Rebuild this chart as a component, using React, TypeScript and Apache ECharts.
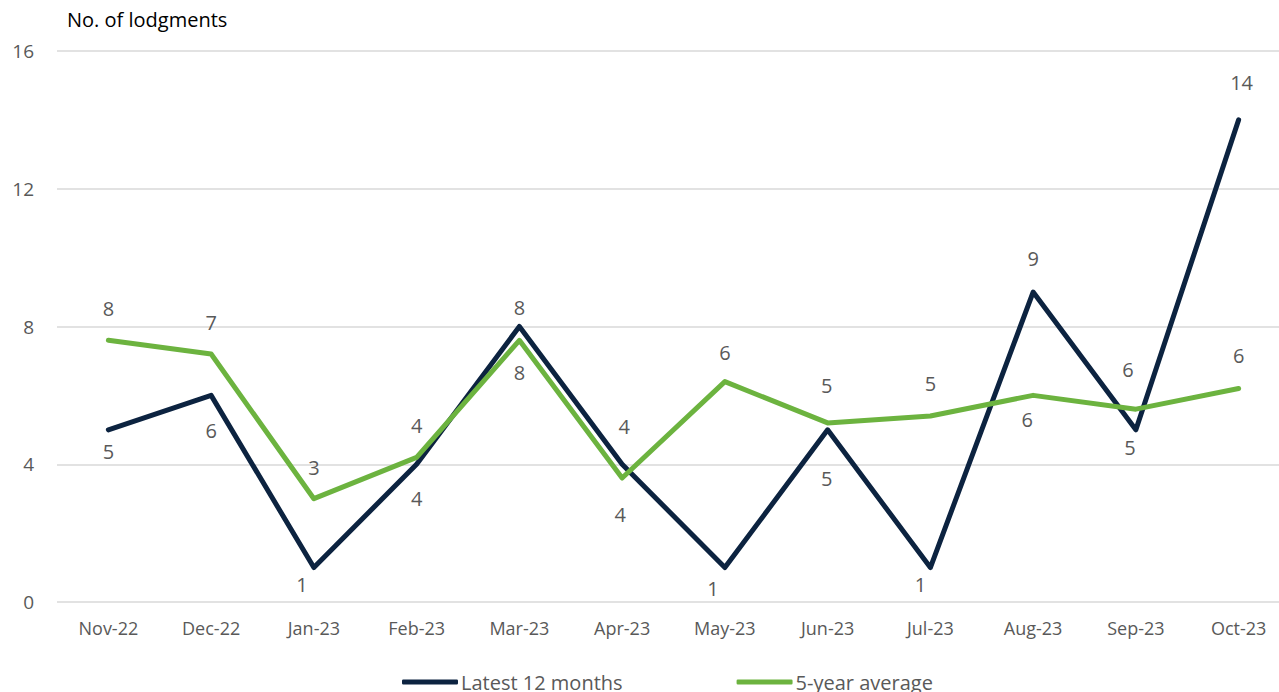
import React, { useEffect, useRef } from "react";
import * as echarts from "echarts";

const categories = ["Nov-22", "Dec-22", "Jan-23", "Feb-23", "Mar-23", "Apr-23", "May-23", "Jun-23", "Jul-23", "Aug-23", "Sep-23", "Oct-23"];
const latest12 = [5, 6, 1, 4, 8, 4, 1, 5, 1, 9, 5, 14];
const fiveYearAvg = [7.6, 7.2, 3.0, 4.2, 7.6, 3.6, 6.4, 5.2, 5.4, 6.0, 5.6, 6.2];
const yTicks = { min: 0, max: 16, interval: 4 };

// label offsets (relative to each point), as placed in the original
const latestLabelDx = [0, 0, -12, 0, 0, 2, -12, -1, -10, 0, -6, 3];
const latestLabelDy = [22, 35, 17, 34, -19, -38, 21, 49, 17, -34, 18, -37];
const avgLabelDx = [0, 0, 0, 0, 0, -2, 0, -1, 0, -6, -8, 0];
const avgLabelDy = [-32, -32, -31, -32, 32, 36, -29, -37, -33, 24, -40, -33];

const FONT = "'Open Sans', sans-serif";
const DARK = "#0c2340";
const GREEN = "#6cb33f";
const GREY = "#595959";

function buildData(values: number[], dx: number[], dy: number[]) {
  return values.map((v, i) => ({
    value: v,
    label: { offset: [dx[i], dy[i]] },
  }));
}

export default function App() {
  const ref = useRef<HTMLDivElement>(null);
  useEffect(() => {
    document.body.style.margin = "0";
    if (!ref.current) return;
    const chart = echarts.init(ref.current, undefined, { renderer: "svg" });
    const labelCommon = {
      show: true,
      position: "inside",
      color: GREY,
      fontSize: 20,
      fontFamily: FONT,
      formatter: (p: any) => String(Math.round(p.value)),
    };
    chart.setOption({
      animation: false,
      backgroundColor: "#ffffff",
      title: {
        text: "No. of lodgments",
        left: 67,
        top: 9,
        padding: 0,
        textStyle: { fontFamily: FONT, fontSize: 20, fontWeight: "normal", color: "#000000" },
      },
      grid: { left: 57, top: 51, right: 1, height: 551, containLabel: false },
      legend: {
        left: 397,
        top: 667,
        itemWidth: 56,
        itemHeight: 5,
        itemGap: 114,
        icon: "roundRect",
        textStyle: { fontFamily: FONT, fontSize: 20, color: GREY, padding: [0, 0, 0, -2] },
        data: ["Latest 12 months", "5-year average"],
      },
      xAxis: {
        type: "category",
        data: categories,
        boundaryGap: true,
        axisLine: { show: false },
        axisTick: { show: false },
        axisLabel: { color: GREY, fontSize: 18, fontFamily: FONT, margin: 17 },
      },
      yAxis: {
        type: "value",
        min: yTicks.min,
        max: yTicks.max,
        interval: yTicks.interval,
        axisLine: { show: false },
        axisTick: { show: false },
        axisLabel: { color: GREY, fontSize: 19, fontFamily: FONT, margin: 23 },
        splitLine: { lineStyle: { color: "#d9d9d9", width: 1.5 } },
      },
      series: [
        {
          name: "Latest 12 months",
          type: "line",
          data: buildData(latest12, latestLabelDx, latestLabelDy),
          symbol: "circle",
          symbolSize: 1,
          itemStyle: { color: DARK },
          lineStyle: { color: DARK, width: 5, cap: "round", join: "round" },
          label: labelCommon,
        },
        {
          name: "5-year average",
          type: "line",
          data: buildData(fiveYearAvg, avgLabelDx, avgLabelDy),
          symbol: "circle",
          symbolSize: 1,
          itemStyle: { color: GREEN },
          lineStyle: { color: GREEN, width: 5, cap: "round", join: "round" },
          label: labelCommon,
        },
      ],
    });
    return () => chart.dispose();
  }, []);
  return (
    <div style={{ width: 1279, height: 692, overflow: "hidden", position: "relative" }}>
      <div ref={ref} style={{ width: 1291, height: 692 }} />
    </div>
  );
}
